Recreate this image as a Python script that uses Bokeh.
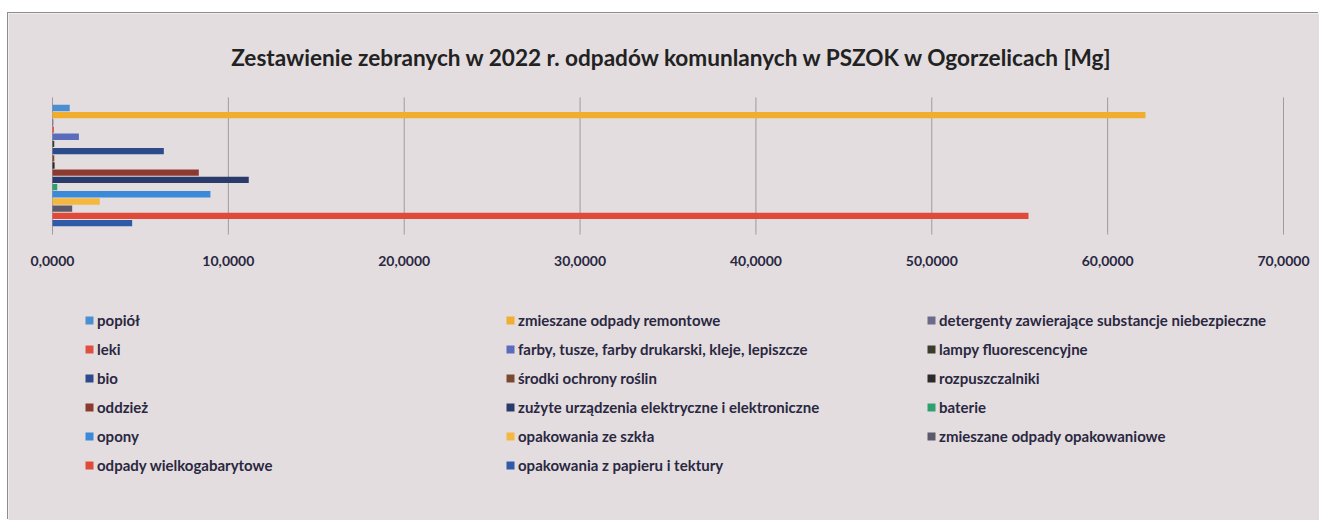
from bokeh.plotting import figure
from bokeh.models import Range1d, Legend, LegendItem, Label, ColumnDataSource
from bokeh.core.properties import value
from bokeh.embed import file_html
from bokeh.resources import INLINE

# ---------------- data (series listed top to bottom as drawn) ----------------
series_names = [
    "popiół",
    "zmieszane odpady remontowe",
    "detergenty zawierające substancje niebezpieczne",
    "leki",
    "farby, tusze, farby drukarski, kleje, lepiszcze",
    "lampy fluorescencyjne",
    "bio",
    "środki ochrony roślin",
    "rozpuszczalniki",
    "oddzież",
    "zużyte urządzenia elektryczne i elektroniczne",
    "baterie",
    "opony",
    "opakowania ze szkła",
    "zmieszane odpady opakowaniowe",
    "odpady wielkogabarytowe",
    "opakowania z papieru i tektury",
]
series_values = [0.98, 62.15, 0.05, 0.08, 1.5, 0.1, 6.33, 0.1, 0.12,
                 8.32, 11.16, 0.27, 8.98, 2.69, 1.12, 55.5, 4.53]
series_colors = ["#4a8fd0", "#f0ae2c", "#6c6a8c", "#e05040", "#5a6cbc", "#3c3c2c",
                 "#2d4a8a", "#7a4a30", "#2c2a2a", "#8b3a30", "#2a3a6a", "#30a070",
                 "#3b8ad8", "#f4b840", "#5c5a6a", "#e04a38", "#2f5aa8"]

legend_columns = [[0, 3, 6, 9, 12, 15], [1, 4, 7, 10, 13, 16], [2, 5, 8, 11, 14]]

x_ticks = [0, 10, 20, 30, 40, 50, 60, 70]
x_tick_labels = ["0,0000", "10,0000", "20,0000", "30,0000",
                 "40,0000", "50,0000", "60,0000", "70,0000"]

title_text = "Zestawienie zebranych w 2022 r. odpadów komunlanych w PSZOK w Ogorzelicach [Mg]"

# ---------------- layout constants ----------------
BG = "#e3dde0"
TXT = "#2a2840"
FONT = "Lato"
W, H = 1311, 507
PX_PER_UNIT = 1231 / 70.0       # x scale
SLOT = 7.19                      # px per bar slot
X0_PX = 44                       # pixel of value 0 inside canvas
ROW0_PX = 94.5                   # pixel of first bar centre inside canvas
GRID_TOP, GRID_BOTTOM = -1.46, 17.6
TICK_LABEL_Y = 21.3
ROW_STEP = 29

x_start = -X0_PX / PX_PER_UNIT
x_end = (W - X0_PX) / PX_PER_UNIT
y_top = -ROW0_PX / SLOT
y_bottom = (H - ROW0_PX) / SLOT

p = figure(width=W, height=H, margin=(13, 0, 0, 8),
           x_range=Range1d(x_start, x_end), y_range=Range1d(y_bottom, y_top),
           output_backend="svg", toolbar_location=None,
           x_axis_location=None, y_axis_location=None,
           min_border=0, background_fill_color=BG, border_fill_color=BG,
           outline_line_color=None)
p.grid.visible = False
p.styles = {"box-shadow": "-1px -1px 0 #8f8c8e"}

# vertical grid lines at the ticks
p.segment(x0=x_ticks, x1=x_ticks, y0=[GRID_TOP] * len(x_ticks),
          y1=[GRID_BOTTOM] * len(x_ticks), line_color="#9e9b9d", line_width=1)

renderers = []
for i, (name, val, col) in enumerate(zip(series_names, series_values, series_colors)):
    src = ColumnDataSource(dict(y=[i], right=[val]))
    r = p.hbar(y="y", right="right", left=0, height=0.88, source=src,
               fill_color=col, line_color=None)
    renderers.append(r)

# tick labels
p.text(x=x_ticks, y=[TICK_LABEL_Y] * len(x_ticks), text=x_tick_labels,
       text_align="center", text_baseline="middle", text_font=value(FONT),
       text_font_size="14px", text_font_style="bold", text_color=TXT)

title = Label(x=664, y=H - 44, x_units="screen", y_units="screen", text=title_text,
              text_align="center", text_baseline="middle", text_font=FONT,
              text_font_style="bold", text_font_size="22.6px", text_color="#222222")
p.add_layout(title)

legend_x = [76, 497, 918]
for cols, lx in zip(legend_columns, legend_x):
    items = [LegendItem(label=series_names[k], renderers=[renderers[k]]) for k in cols]
    ly = 45 + (6 - len(cols)) * ROW_STEP
    leg = Legend(items=items, location=(lx, ly), orientation="vertical",
                 spacing=ROW_STEP - 20, padding=0, margin=0, glyph_width=10,
                 glyph_height=10, label_height=20, label_standoff=3,
                 border_line_color=None, background_fill_alpha=0,
                 label_text_font=FONT, label_text_font_size="15px",
                 label_text_color=TXT, label_text_font_style="bold")
    p.add_layout(leg)

open("out.html", "w").write(file_html(p, INLINE))
